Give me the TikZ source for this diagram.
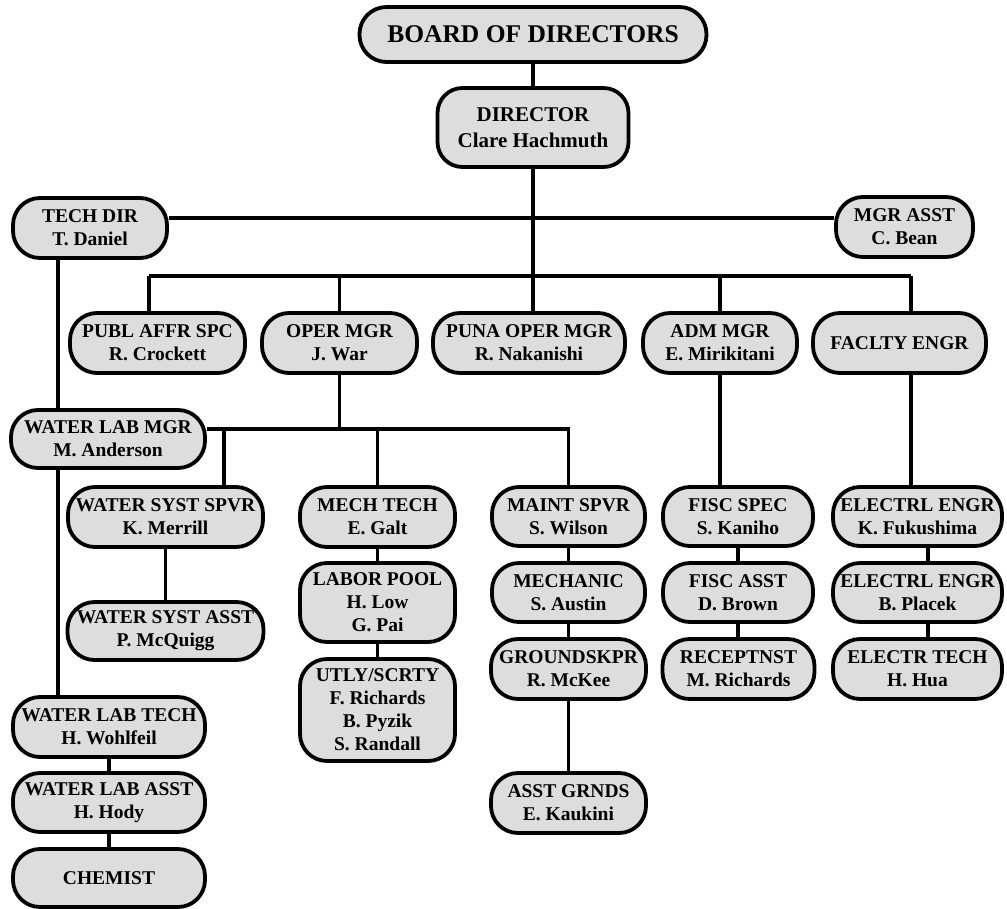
\documentclass[tikz,border=0pt]{standalone}
\usepackage{fontspec}
\setmainfont{Liberation Serif}
\definecolor{boxgray}{RGB}{221,221,221}
\begin{document}
\begin{tikzpicture}[x=1pt,y=-1pt,
  box/.style={draw=black, line width=3.8pt, fill=boxgray, rounded corners=27pt,
    inner sep=0pt, align=center, text=black,
    font=\fontsize{19.5}{23}\selectfont\bfseries},
  link/.style={draw=black, line width=3.4pt}]
\useasboundingbox (0,0) rectangle (1007,908);
% coordinates for buses
\coordinate (yA) at (0,218);
\coordinate (yB) at (0,276);
\coordinate (yC) at (0,429);
\coordinate (xT) at (58,0);
\coordinate (xP) at (149,0);
\coordinate (xW) at (224,0);
\coordinate (xF) at (911,0);
\coordinate (xE) at (928,0);
% nodes
\node[box, minimum width=347, minimum height=55, font=\fontsize{25.5}{28}\selectfont\bfseries] (board) at (533,34.5) {BOARD OF DIRECTORS};
\node[box, minimum width=191, minimum height=79, rounded corners=25pt, font=\fontsize{21}{26}\selectfont\bfseries] (dir) at (533,127.5) {DIRECTOR\\Clare Hachmuth};
\node[box, minimum width=154, minimum height=60] (techdir) at (90,228) {TECH DIR\\T. Daniel};
\node[box, minimum width=137, minimum height=60] (mgrasst) at (904.5,227) {MGR ASST\\C. Bean};
\node[box, minimum width=175, minimum height=60] (publ) at (157.5,343) {PUBL AFFR SPC\\R. Crockett};
\node[box, minimum width=155, minimum height=60] (oper) at (339.5,343) {OPER MGR\\J. War};
\node[box, minimum width=192, minimum height=60] (puna) at (529,343) {PUNA OPER MGR\\R. Nakanishi};
\node[box, minimum width=154, minimum height=60] (adm) at (720,343) {ADM MGR\\E. Mirikitani};
\node[box, minimum width=173, minimum height=60] (faclty) at (899.5,343) {FACLTY ENGR};
\node[box, minimum width=194, minimum height=58] (wlmgr) at (108,439) {WATER LAB MGR\\M. Anderson};
\node[box, minimum width=195, minimum height=60] (wsspvr) at (165.5,517) {WATER SYST SPVR\\K. Merrill};
\node[box, minimum width=155, minimum height=60] (mech) at (377.5,517) {MECH TECH\\E. Galt};
\node[box, minimum width=153, minimum height=59] (maint) at (568.5,516.5) {MAINT SPVR\\S. Wilson};
\node[box, minimum width=150, minimum height=59] (fiscspec) at (738,516.5) {FISC SPEC\\S. Kaniho};
\node[box, minimum width=169, minimum height=59] (electrlA) at (917.5,516.5) {ELECTRL ENGR\\K. Fukushima};
\node[box, minimum width=196, minimum height=58] (wsasst) at (165.5,631) {WATER SYST ASST\\P. McQuigg};
\node[box, minimum width=155, minimum height=79] (labor) at (377.5,602.5) {LABOR POOL\\H. Low\\G. Pai};
\node[box, minimum width=155, minimum height=102] (utly) at (377.5,710) {UTLY/SCRTY\\F. Richards\\B. Pyzik\\S. Randall};
\node[box, minimum width=153, minimum height=59] (mechanic) at (568.5,592.5) {MECHANIC\\S. Austin};
\node[box, minimum width=150, minimum height=59] (fiscasst) at (738,592.5) {FISC ASST\\D. Brown};
\node[box, minimum width=169, minimum height=59] (electrlB) at (917.5,592.5) {ELECTRL ENGR\\B. Placek};
\node[box, minimum width=155, minimum height=60] (grounds) at (568.5,669) {GROUNDSKPR\\R. McKee};
\node[box, minimum width=152, minimum height=60] (recept) at (738.5,669) {RECEPTNST\\M. Richards};
\node[box, minimum width=169, minimum height=60] (electr) at (917.5,669) {ELECTR TECH\\H. Hua};
\node[box, minimum width=155, minimum height=60] (asstgr) at (568.5,803) {ASST GRNDS\\E. Kaukini};
\node[box, minimum width=192, minimum height=60] (wltech) at (109,727) {WATER LAB TECH\\H. Wohlfeil};
\node[box, minimum width=192, minimum height=59] (wlasst) at (109,802.5) {WATER LAB ASST\\H. Hody};
\node[box, minimum width=192, minimum height=58] (chemist) at (109,878) {CHEMIST};
% connectors
\draw[link] (board.south) -- (board.south |- dir.north);
\draw[link] (dir.south) -- (dir.south |- puna.north);
\draw[link] (techdir.east |- yA) -- (mgrasst.west |- yA);
\draw[link] (xP |- yB) -- (xF |- yB);
\draw[link] (xP |- yB) -- (xP |- publ.north);
\draw[link] (oper.north |- yB) -- (oper.north);
\draw[link] (adm.north |- yB) -- (adm.north);
\draw[link] (xF |- yB) -- (xF |- faclty.north);
\draw[link] (xT |- techdir.south) -- (xT |- wlmgr.north);
\draw[link] (xT |- wlmgr.south) -- (xT |- wltech.north);
\draw[link] (wltech.south) -- (wltech.south |- wlasst.north);
\draw[link] (wlasst.south) -- (wlasst.south |- chemist.north);
\draw[link] (oper.south) -- (oper.south |- yC);
\draw[link] (wlmgr.east |- yC) -- (maint.north |- yC) -- (maint.north);
\draw[link] (xW |- yC) -- (xW |- wsspvr.north);
\draw[link] (mech.north |- yC) -- (mech.north);
\draw[link] (wsspvr.south) -- (wsspvr.south |- wsasst.north);
\draw[link] (mech.south) -- (mech.south |- labor.north);
\draw[link] (labor.south) -- (labor.south |- utly.north);
\draw[link] (maint.south) -- (maint.south |- mechanic.north);
\draw[link] (mechanic.south) -- (mechanic.south |- grounds.north);
\draw[link] (grounds.south) -- (grounds.south |- asstgr.north);
\draw[link] (adm.south) -- (adm.south |- fiscspec.north);
\draw[link] (fiscspec.south) -- (fiscspec.south |- fiscasst.north);
\draw[link] (fiscasst.south) -- (fiscasst.south |- recept.north);
\draw[link] (xF |- faclty.south) -- (xF |- electrlA.north);
\draw[link] (xE |- electrlA.south) -- (xE |- electrlB.north);
\draw[link] (xE |- electrlB.south) -- (xE |- electr.north);
\end{tikzpicture}
\end{document}
